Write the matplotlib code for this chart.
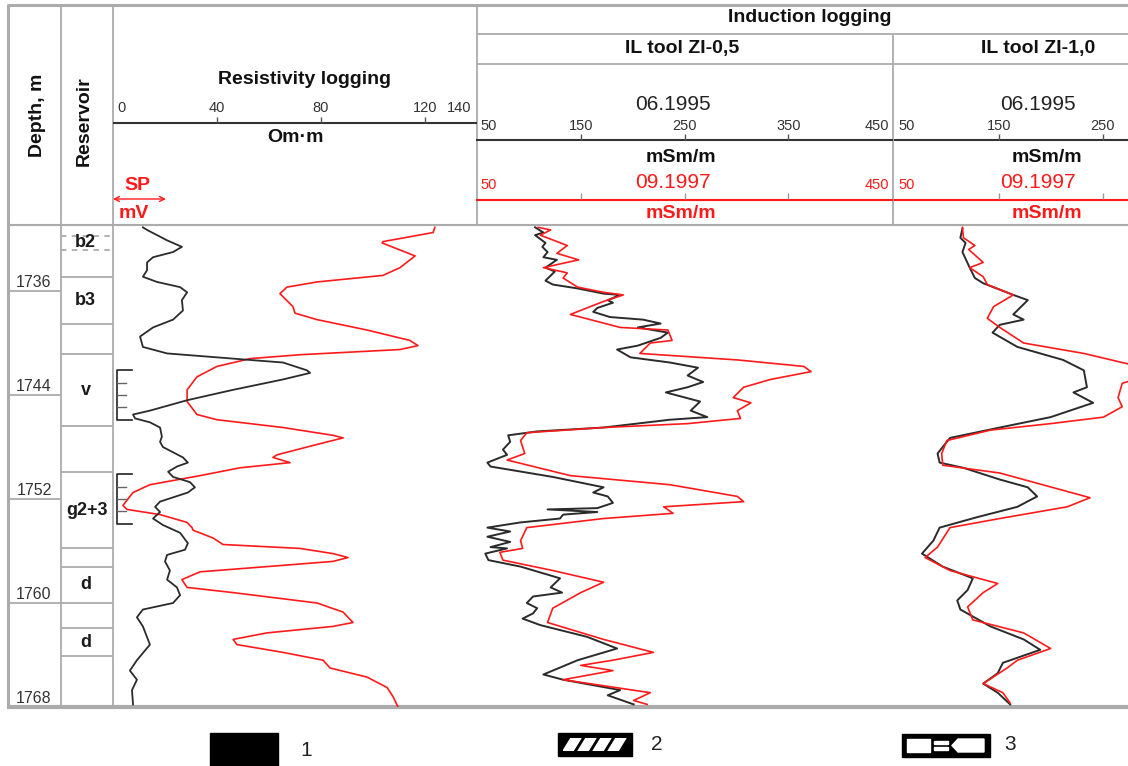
import matplotlib
matplotlib.use("Agg")
import matplotlib.pyplot as plt
from matplotlib.patches import Rectangle, Polygon
import matplotlib.transforms as mtrans
import numpy as np

plt.rcParams['font.family'] = ['Liberation Sans', 'DejaVu Sans']

W, H = 1128, 766
DEPTH_TOP, DEPTH_BOT = 1730.92, 1768.0

# ---------------- data ----------------
depth_ticks = [1736, 1744, 1752, 1760, 1768]

res_names = ['b2', 'b3', 'v', 'g2+3', 'd', 'd']
res_top = [1731.75, 1734.9, 1740.85, 1749.9, 1757.2, 1761.9]
res_bot = [1732.85, 1738.5, 1746.4, 1755.8, 1760.0, 1764.1]

perf_top = [1742.1, 1750.1]
perf_bot = [1745.9, 1753.9]

# Resistivity (Om*m)
rt_depth = [1731.1, 1731.5, 1732.2, 1732.3, 1733.3, 1734.2, 1734.8, 1735.3, 1735.7, 1736.2,
            1737.2, 1737.7, 1738.2, 1739.0, 1739.8, 1740.2, 1740.5, 1740.9, 1741.2, 1741.8,
            1742.6, 1743.6, 1744.5, 1745.5, 1745.9, 1746.5, 1747.1, 1747.3, 1747.8, 1748.6,
            1748.8, 1749.2, 1749.6, 1750.2, 1750.9, 1751.5, 1752.5, 1752.8, 1753.2, 1753.8,
            1754.2, 1754.4, 1755.0, 1755.5, 1755.8, 1756.2, 1756.5, 1756.8, 1757.2, 1757.6,
            1758.2, 1758.8, 1759.2, 1760.0, 1760.7, 1761.5, 1761.8, 1762.3, 1762.8, 1763.2,
            1763.8, 1764.4, 1765.0, 1765.7, 1766.5, 1767.2, 1768.0]
rt_value = [123.8, 123.1, 103.8, 103.5, 116.2, 110.4, 103.8, 78.5, 66.9, 64.2,
            69.2, 70.0, 78.5, 97.7, 114.2, 117.3, 110.4, 71.9, 52.7, 40.0,
            32.3, 28.5, 28.5, 32.3, 40.0, 65.4, 84.6, 88.5, 78.5, 63.1,
            61.5, 68.1, 48.8, 33.5, 14.2, 7.7, 3.8, 5.4, 18.1, 28.5,
            30.4, 30.8, 38.5, 42.3, 71.9, 84.6, 90.4, 84.6, 59.2, 33.5,
            26.5, 28.5, 46.2, 78.5, 88.5, 92.3, 84.6, 59.2, 46.2, 47.7,
            65.4, 80.8, 83.5, 97.7, 105.4, 107.7, 109.6]

# SP (mV, relative, same track)
sp_depth = [1731.1, 1731.3, 1732.1, 1732.6, 1733.0, 1733.4, 1733.8, 1734.4, 1734.9, 1735.3,
            1735.7, 1736.1, 1736.7, 1737.5, 1738.2, 1738.8, 1739.5, 1740.3, 1740.8, 1741.2,
            1741.5, 1742.1, 1742.3, 1742.8, 1743.6, 1744.4, 1745.2, 1745.5, 1745.8, 1746.1,
            1746.5, 1747.2, 1747.6, 1748.0, 1748.8, 1749.2, 1749.5, 1749.9, 1750.3, 1750.7,
            1751.1, 1751.5, 1752.2, 1752.6, 1753.0, 1753.5, 1754.0, 1754.6, 1755.4, 1755.9,
            1756.3, 1756.8, 1757.5, 1758.2, 1758.8, 1759.4, 1760.0, 1760.5, 1761.1, 1761.8,
            1763.2, 1764.4, 1765.2, 1765.9, 1766.7, 1767.8]
sp_value = [11.5, 13.1, 20.8, 26.5, 23.1, 15.4, 13.1, 13.1, 11.5, 16.9,
            25.8, 28.5, 26.5, 26.9, 23.1, 15.4, 10.4, 11.5, 20.8, 46.2,
            65.4, 74.6, 75.8, 65.4, 46.2, 28.5, 14.2, 7.7, 8.5, 14.2,
            18.1, 18.8, 18.1, 19.2, 26.9, 28.8, 24.6, 21.2, 23.1, 29.6,
            31.5, 28.8, 18.1, 16.2, 18.1, 15.4, 19.2, 25.8, 28.8, 27.7,
            20.8, 20.0, 21.9, 20.8, 24.6, 25.8, 23.1, 11.5, 9.2, 11.5,
            14.2, 9.2, 6.5, 9.2, 7.3, 7.7]

# Induction ZI-0,5, 06.1995 (mSm/m)
il05_95_depth = [1731.1, 1731.5, 1731.7, 1732.3, 1732.6, 1733.0, 1733.4, 1733.6, 1734.2, 1734.5,
                 1735.2, 1735.5, 1735.8, 1736.2, 1736.3, 1736.7, 1736.9, 1737.3, 1737.6, 1738.0,
                 1738.2, 1738.5, 1738.8, 1739.2, 1739.6, 1740.2, 1740.5, 1741.1, 1741.5, 1741.9,
                 1742.5, 1743.0, 1743.4, 1743.8, 1744.5, 1745.2, 1745.7, 1745.9, 1746.5, 1746.8,
                 1747.1, 1747.6, 1748.2, 1748.6, 1749.2, 1749.5, 1750.3, 1751.1, 1751.5, 1751.8,
                 1752.3, 1752.7, 1752.8, 1753.0, 1753.2, 1753.5, 1753.8, 1754.2, 1754.5, 1754.9,
                 1755.3, 1755.7, 1755.8, 1756.2, 1756.7, 1757.2, 1758.1, 1758.8, 1759.2, 1759.5,
                 1760.0, 1760.4, 1760.8, 1761.2, 1761.7, 1762.6, 1763.5, 1764.4, 1765.5, 1765.9,
                 1766.7, 1767.1, 1767.8]
il05_95_value = [106, 114, 106, 116, 113, 118, 114, 127, 116, 125,
                 116, 123, 147, 172, 188, 176, 181, 166, 162, 178,
                 210, 227, 205, 234, 227, 205, 185, 198, 236, 263,
                 253, 268, 253, 232, 265, 256, 272, 236, 172, 108,
                 80, 82, 75, 79, 60, 63, 123, 172, 162, 176,
                 181, 166, 118, 166, 133, 130, 92, 60, 82, 60,
                 82, 63, 79, 58, 61, 92, 130, 121, 132, 104,
                 98, 108, 104, 94, 111, 156, 185, 147, 114, 133,
                 188, 176, 201]

# Induction ZI-0,5, 09.1997
il05_97_depth = [1731.1, 1731.3, 1731.7, 1732.5, 1733.1, 1733.6, 1734.2, 1734.6, 1735.0, 1735.7,
                 1736.1, 1736.3, 1736.8, 1737.8, 1738.8, 1739.0, 1739.8, 1740.0, 1740.8, 1741.3,
                 1741.8, 1742.2, 1742.8, 1743.4, 1744.2, 1744.6, 1745.2, 1745.8, 1746.2, 1746.5,
                 1746.9, 1747.5, 1748.5, 1749.0, 1750.2, 1750.9, 1751.8, 1752.2, 1752.6, 1753.1,
                 1753.5, 1754.2, 1755.2, 1755.8, 1756.1, 1756.7, 1757.5, 1758.4, 1759.2, 1760.4,
                 1761.5, 1762.8, 1763.8, 1764.4, 1764.8, 1765.2, 1765.9, 1766.9, 1767.5, 1767.8]
il05_97_value = [109, 121, 111, 137, 127, 148, 114, 137, 133, 147,
                 172, 191, 172, 140, 188, 234, 238, 217, 207, 301,
                 365, 372, 333, 307, 297, 314, 301, 304, 253, 172,
                 98, 92, 96, 79, 140, 236, 301, 307, 230, 239,
                 172, 98, 92, 94, 72, 75, 123, 172, 150, 123,
                 118, 172, 220, 181, 150, 181, 133, 217, 201, 214]

# Induction ZI-1,0, 06.1995
il10_95_depth = [1731.2, 1731.9, 1732.3, 1733.0, 1734.2, 1735.0, 1735.4, 1736.3, 1736.7, 1737.8,
                 1738.2, 1738.6, 1739.2, 1740.3, 1741.3, 1742.1, 1743.4, 1743.8, 1744.6, 1745.7,
                 1746.5, 1747.3, 1748.5, 1749.2, 1749.6, 1750.5, 1751.1, 1751.8, 1752.6, 1753.4,
                 1754.2, 1755.2, 1756.2, 1757.2, 1758.1, 1759.0, 1759.8, 1760.5, 1761.8, 1762.8,
                 1763.6, 1764.6, 1765.4, 1766.2, 1766.9, 1767.8]
il10_95_value = [115, 113, 118, 115, 122, 127, 135, 164, 178, 164,
                 174, 151, 144, 168, 212, 232, 235, 222, 241, 200,
                 151, 103, 91, 93, 116, 151, 178, 187, 168, 129,
                 93, 87, 76, 96, 125, 120, 110, 113, 142, 174,
                 190, 154, 149, 135, 149, 161]

# Induction ZI-1,0, 09.1997
il10_97_depth = [1731.1, 1731.9, 1732.5, 1732.8, 1733.8, 1734.2, 1734.9, 1735.5, 1736.3, 1737.2,
                 1738.1, 1738.8, 1740.0, 1740.8, 1741.5, 1742.2, 1743.1, 1744.2, 1744.9, 1745.7,
                 1746.2, 1746.7, 1747.5, 1748.5, 1749.4, 1750.0, 1751.9, 1752.6, 1753.5, 1754.2,
                 1755.7, 1756.5, 1757.5, 1758.5, 1759.2, 1760.3, 1761.3, 1762.3, 1763.5, 1764.4,
                 1765.0, 1766.2, 1766.9, 1767.7]
il10_97_value = [115, 116, 127, 121, 135, 122, 135, 139, 164, 145,
                 139, 151, 174, 232, 269, 306, 269, 265, 269, 251,
                 200, 142, 100, 95, 96, 151, 238, 216, 151, 103,
                 91, 79, 103, 149, 135, 120, 125, 174, 200, 168,
                 158, 135, 154, 161]

# ---------------- figure ----------------
GRID = '#ababab'
DARK = '#2b2b2b'
RED = '#ff1a1a'

fig = plt.figure(figsize=(W / 100, H / 100), dpi=100)


def box(x0, y0, x1, y1):
    return [x0 / W, 1 - y1 / H, (x1 - x0) / W, (y1 - y0) / H]


bg = fig.add_axes([0, 0, 1, 1])
bg.set_xlim(0, W)
bg.set_ylim(H, 0)
bg.axis('off')

# frame lines
def hline(y, x0, x1, lw=1.3, c=GRID, **kw):
    bg.plot([x0, x1], [y, y], color=c, lw=lw, solid_capstyle='butt', **kw)


def vline(x, y0, y1, lw=1.3, c=GRID, **kw):
    bg.plot([x, x], [y0, y1], color=c, lw=lw, solid_capstyle='butt', **kw)


hline(5, 8, W, lw=2.2)
hline(34, 477, W)
hline(64, 477, W)
hline(225, 8, W, lw=1.5)
hline(707, 7, W, lw=3)
vline(8, 4, 708, lw=2.2)
vline(61, 5, 707)
vline(113, 5, 707)
vline(477, 5, 225)
vline(893, 34, 225)

# left headers
bg.text(38, 115, 'Depth, m', rotation=90, ha='center', va='center',
        fontsize=14, fontweight='bold', color='#111')
bg.text(84, 121, 'Reservoir', rotation=90, ha='center', va='center',
        fontsize=14, fontweight='bold', color='#111')
bg.text(810, 18, 'Induction logging', ha='center', va='center',
        fontsize=14, fontweight='bold', color='#111')


def header(x0, x1, xlim):
    ax = fig.add_axes(box(x0, 0, x1, 225))
    ax.set_xlim(*xlim)
    ax.set_ylim(225, 0)
    ax.axis('off')
    return ax


# resistivity header
hr = header(113, 477, (0, 140))
hr.text(70 + 3.5, 80, 'Resistivity logging', ha='center', va='center',
        fontsize=14, fontweight='bold', color='#111')
hr.plot([0, 140], [123, 123], color='#333', lw=1.5)
hr.vlines([40, 80, 120], 117, 123, color='#555', lw=1)
for v, ha, dx in [(0, 'left', 1.5), (40, 'center', 0), (80, 'center', 0),
                  (120, 'center', 0), (140, 'right', -2)]:
    hr.text(v + dx, 108, str(v), ha=ha, va='center', fontsize=10.5, color='#333')
hr.text(70, 137, 'Om·m', ha='center', va='center', fontsize=14,
        fontweight='bold', color='#111')
bg.text(137, 185, 'SP', ha='center', va='center', fontsize=14,
        fontweight='bold', color=RED)
bg.text(134, 213, 'mV', ha='center', va='center', fontsize=14,
        fontweight='bold', color=RED)
bg.annotate('', xy=(113, 199), xytext=(166, 199),
            arrowprops=dict(arrowstyle='<->', color=RED, lw=1.0,
                            mutation_scale=9, shrinkA=0, shrinkB=0))

# induction headers
for (x0, x1, xlim, title, ticks) in [
        (477, 892, (50, 450), 'IL tool ZI-0,5', [150, 250, 350]),
        (895, W, (50, 50 + (W - 895) / 1.0375), 'IL tool ZI-1,0', [150, 250])]:
    h = header(x0, x1, xlim)
    cx = 250 - 10 if x0 == 477 else 0
    h.text(xlim[0] + 0, 0, '')
    if x0 == 477:
        tx = 239
        tt = 248
    else:
        tx = 188
        tt = 188
    h.text(tt, 49, title, ha='center', va='center', fontsize=14,
           fontweight='bold', color='#111')
    h.text(tx, 104, '06.1995', ha='center', va='center', fontsize=15, color='#222')
    h.text(tx + 8, 157, 'mSm/m', ha='center', va='center', fontsize=14,
           fontweight='bold', color='#111')
    h.text(tx, 183, '09.1997', ha='center', va='center', fontsize=15, color=RED)
    h.text(tx + 8, 214, 'mSm/m', ha='center', va='center', fontsize=14,
           fontweight='bold', color=RED)
    h.plot([xlim[0], xlim[1]], [140, 140], color='#333', lw=1.5, clip_on=False)
    h.plot([xlim[0], xlim[1]], [200, 200], color=RED, lw=1.5, clip_on=False)
    h.vlines(ticks, 134, 140, color='#555', lw=1)
    h.vlines(ticks, 193, 199, color='#999', lw=1)
    h.text(53, 126, '50', ha='left', va='center', fontsize=10.5, color='#333')
    h.text(53, 185, '50', ha='left', va='center', fontsize=10.5, color=RED)
    for t in ticks:
        h.text(t, 126, str(t), ha='center', va='center', fontsize=10.5, color='#333')
    if x0 == 477:
        h.text(447, 126, '450', ha='right', va='center', fontsize=10.5, color='#333')
        h.text(447, 185, '450', ha='right', va='center', fontsize=10.5, color=RED)


def track(x0, x1, xlim):
    ax = fig.add_axes(box(x0, 225, x1, 707))
    ax.set_xlim(*xlim)
    ax.set_ylim(DEPTH_BOT, DEPTH_TOP)
    ax.axis('off')
    return ax


# depth column
ad = track(8, 61, (0, 1))
for d in depth_ticks:
    if d < DEPTH_BOT:
        ad.axhline(d, color=GRID, lw=1.3)
    ad.text(0.49, d - 0.1, str(d), ha='center', va='bottom', fontsize=11.5, color='#333')

# reservoir column
ar = track(61, 113, (0, 1))
for i, (n, t, b) in enumerate(zip(res_names, res_top, res_bot)):
    ls = (0, (3, 3)) if i == 0 else '-'
    ar.axhline(t, color=GRID, lw=1.3, ls=ls)
    ar.axhline(b, color=GRID, lw=1.3, ls=ls)
    ar.text(0.47 if n != 'g2+3' else 0.5, (t + b) / 2, n, ha='center', va='center',
            fontsize=13, fontweight='bold', color='#1a1a1a')

# resistivity + SP track
a_res = track(113, 477, (0, 140))
a_res.plot(rt_value, rt_depth, color=RED, lw=1.2)
a_sp = track(113, 477, (0, 140))
a_sp.plot(sp_value, sp_depth, color=DARK, lw=1.3)

# perforation brackets
bt = mtrans.blended_transform_factory(a_res.transAxes, a_res.transData)
for t, b in zip(perf_top, perf_bot):
    a_res.plot([0.052, 0.011, 0.011, 0.052], [t, t, b, b], color='#222', lw=1.2,
               transform=bt)
    for m in np.linspace(t, b, 5)[1:-1]:
        a_res.plot([0.011, 0.036], [m, m], color='#666', lw=1.0, transform=bt)

# induction tracks
a1 = track(477, 892, (50, 450))
a1.plot(il05_95_value, il05_95_depth, color=DARK, lw=1.4)
a1.plot(il05_97_value, il05_97_depth, color=RED, lw=1.2)
a2 = track(895, W, (50, 50 + (W - 895) / 1.0375))
a2.plot(il10_95_value, il10_95_depth, color=DARK, lw=1.4)
a2.plot(il10_97_value, il10_97_depth, color=RED, lw=1.2)

# legend symbols
bg.add_patch(Rectangle((210, 733), 68, 34, color='black'))
bg.text(306, 750, '1', ha='center', va='center', fontsize=15, color='#222')

bg.add_patch(Rectangle((558, 733), 74, 23, color='black'))
clip = Rectangle((563, 738), 64, 13, transform=bg.transData)
for x in [558, 573, 588, 603]:
    p = Polygon([(x + 5, 751), (x + 15, 751), (x + 23, 738), (x + 13, 738)],
                closed=True, color='white')
    bg.add_patch(p)
    p.set_clip_path(clip)
bg.text(657, 745, '2', ha='center', va='center', fontsize=15, color='#222')

bg.add_patch(Rectangle((902, 734), 88, 23, color='black'))
bg.add_patch(Rectangle((907, 739), 23, 13, color='white'))
bg.add_patch(Rectangle((934, 741), 14, 3, color='white'))
bg.add_patch(Rectangle((934, 747), 14, 3, color='white'))
bg.add_patch(Polygon([(952, 745.5), (958, 739), (984, 739), (984, 752), (958, 752)],
                     closed=True, color='white'))
bg.text(1010, 745, '3', ha='center', va='center', fontsize=15, color='#222')

fig.savefig('out.png', dpi=100)
